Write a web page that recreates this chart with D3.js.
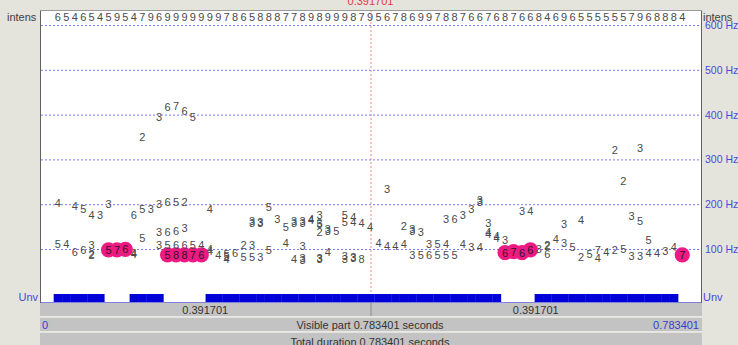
<!DOCTYPE html>
<html>
<head>
<meta charset="utf-8">
<script src="https://cdn.jsdelivr.net/npm/d3@7"></script>
<style>
  html, body { margin: 0; padding: 0; background: #e4e4dc; }
  svg { display: block; font-family: "Liberation Sans", Arial, sans-serif; }
</style>
</head>
<body>
<svg id="chart" width="738" height="345"></svg>
<script>
// Sound / pitch analysis settings
const duration = 0.783401;
const cursorTime = 0.391701;
const firstFrame = 0.0212;
const frameStep = 0.01;
const frameCount = 75;

// Lengths shown on the two halves of the time ruler (s)
const segmentLabels = ["0.391701", "0.391701"];

// Intensity digit per analysis frame (0..9)
const intensityDigits = ("6546545954796999999978658887789899987" +
                         "95678699788766768766846965555557968884").split("");

// Frequency axis ticks (Hz)
const hzTicks = [100, 200, 300, 400, 500, 600];

// Pitch candidates: [frame, frequency Hz, strength digit]
const candidates = [
  [0,202,4],[0,111,5],
  [1,111,4],
  [2,196,4],[2,94,6],
  [3,189,5],[3,98,6],
  [4,176,4],[4,109,3],[4,89,2],[4,86,2],
  [5,176,3],
  [6,200,3],
  [9,176,6],[9,91,4],[9,88,4],
  [10,349,2],[10,189,5],[10,124,5],
  [11,189,3],
  [12,395,3],[12,200,3],[12,139,3],[12,109,3],
  [13,418,6],[13,206,6],[13,139,6],[13,109,5],
  [14,419,7],[14,206,5],[14,141,6],[14,109,6],
  [15,409,6],[15,206,2],[15,146,3],[15,109,6],
  [16,394,5],[16,109,5],
  [17,109,4],
  [18,189,4],[18,99,4],[18,95,4],
  [19,87,4],
  [20,88,5],[20,85,5],[20,78,4],
  [21,92,6],
  [22,109,2],[22,83,5],
  [23,162,3],[23,159,3],[23,109,3],[23,83,5],
  [24,160,3],[24,157,3],[24,83,3],
  [25,194,5],[25,98,5],
  [26,166,3],
  [27,150,5],[27,114,4],
  [28,163,3],[28,159,3],[28,77,4],
  [29,163,3],[29,159,3],[29,107,3],[29,79,3],[29,75,3],
  [30,168,4],[30,164,4],
  [31,177,3],[31,159,3],[31,155,5],[31,137,2],[31,81,3],[31,77,3],
  [32,144,3],[32,140,3],[32,94,4],
  [33,140,5],
  [34,177,5],[34,161,5],[34,84,3],[34,77,3],
  [35,172,4],[35,161,4],[35,83,3],[35,79,3],
  [36,157,4],[36,78,8],
  [37,148,4],
  [38,114,4],
  [39,233,3],[39,107,4],
  [40,107,4],
  [41,152,2],[41,111,4],
  [42,144,3],[42,140,3],[42,87,3],
  [43,139,3],[43,87,5],
  [44,111,3],[44,87,6],
  [45,111,5],[45,87,5],
  [46,166,3],[46,111,4],[46,87,5],
  [47,166,6],[47,87,5],
  [48,176,3],[48,111,4],
  [49,189,3],[49,105,3],
  [50,210,3],[50,206,3],[50,105,4],
  [51,159,3],[51,137,4],[51,133,4],
  [52,128,4],[52,125,4],
  [53,120,3],
  [55,185,3],
  [56,185,4],
  [57,101,3],
  [58,110,2],[58,107,2],[58,89,6],
  [59,122,4],
  [60,155,3],[60,114,3],
  [61,105,5],
  [62,165,4],[62,83,2],
  [63,89,5],
  [64,98,7],[64,79,4],
  [65,94,4],
  [66,321,2],[66,98,2],
  [67,252,2],[67,101,5],
  [68,174,3],[68,84,3],
  [69,325,3],[69,163,5],[69,84,3],
  [70,120,5],[70,90,4],
  [71,92,4],
  [72,95,3],
  [73,105,4]
];

// Selected voiced path: [frame, frequency Hz, strength digit]
const voicedPath = [
  [6,98,5],[7,98,7],[8,99,6],
  [13,87,5],[14,87,8],[15,87,8],[16,87,7],[17,87,6],
  [53,92,6],[54,94,7],[55,92,6],[56,98,6],
  [74,87,7]
];

const svg = d3.select("#chart");
const areaLeft = 40, areaRight = 701, areaTop = 10, unvTop = 294, unvBottom = 302;

const x = d3.scaleLinear().domain([0, duration]).range([areaLeft, areaRight]);
const y = d3.scaleLinear().domain([0, 600]).range([293.8, 25]);
const frameTime = i => firstFrame + i * frameStep;

// white drawing area
svg.append("rect").attr("x", areaLeft).attr("y", areaTop)
  .attr("width", areaRight - areaLeft).attr("height", unvBottom - areaTop + 1)
  .attr("fill", "#ffffff");

// frequency grid lines
svg.append("g").selectAll("line").data(hzTicks).join("line")
  .attr("x1", areaLeft + 1).attr("x2", areaRight - 1)
  .attr("y1", d => y(d) + 0.5).attr("y2", d => y(d) + 0.5)
  .attr("stroke", "#7a7af0").attr("stroke-width", 1)
  .attr("stroke-dasharray", "2,2");

// frequency labels on the right
svg.append("g").selectAll("text").data(hzTicks).join("text")
  .attr("x", 705).attr("y", d => y(d) + 4)
  .attr("font-size", 10.5).attr("fill", "#4a4ad8")
  .text(d => d + " Hz");

// cursor line
svg.append("line")
  .attr("x1", x(cursorTime) + 0.5).attr("x2", x(cursorTime) + 0.5)
  .attr("y1", areaTop).attr("y2", unvTop)
  .attr("stroke", "#f08a8a").attr("stroke-dasharray", "2,2");

// cursor time above the area
svg.append("text").attr("x", x(cursorTime)).attr("y", 5)
  .attr("text-anchor", "middle").attr("font-size", 11).attr("fill", "#e04040")
  .text(cursorTime.toFixed(6));

// intensity digits
svg.append("g").selectAll("text").data(intensityDigits).join("text")
  .attr("x", (d, i) => x(frameTime(i)))
  .attr("y", 21)
  .attr("text-anchor", "middle").attr("font-size", 11).attr("fill", "#4a4a4a")
  .text(d => d);

svg.append("text").attr("x", 7).attr("y", 21).attr("font-size", 11)
  .attr("fill", "#404040").text("intens");
svg.append("text").attr("x", 703).attr("y", 21).attr("font-size", 11)
  .attr("fill", "#404040").text("intens");

// selected path circles
svg.append("g").selectAll("circle").data(voicedPath).join("circle")
  .attr("cx", d => x(frameTime(d[0])))
  .attr("cy", d => y(d[1]))
  .attr("r", 7.6)
  .attr("fill", "#ec1a82");

// candidate digits
svg.append("g").selectAll("text").data(candidates).join("text")
  .attr("x", d => x(frameTime(d[0])))
  .attr("y", d => y(d[1]) + 4)
  .attr("text-anchor", "middle").attr("font-size", 11).attr("fill", "#4a4a4a")
  .text(d => d[2]);

// digits of the selected path
svg.append("g").selectAll("text").data(voicedPath).join("text")
  .attr("x", d => x(frameTime(d[0])))
  .attr("y", d => y(d[1]) + 4)
  .attr("text-anchor", "middle").attr("font-size", 11).attr("fill", "#3a1028")
  .text(d => d[2]);

// unvoiced strip: blue where a frame is unvoiced
const voicedSet = new Set(voicedPath.map(d => d[0]));
const unvoiced = d3.range(frameCount).filter(i => !voicedSet.has(i));
svg.append("g").selectAll("rect").data(unvoiced).join("rect")
  .attr("x", i => x(frameTime(i) - frameStep / 2))
  .attr("width", i => x(frameTime(i) + frameStep / 2) - x(frameTime(i) - frameStep / 2) + 0.3)
  .attr("y", unvTop).attr("height", unvBottom - unvTop)
  .attr("fill", "#0000d8");
svg.append("line").attr("x1", areaLeft).attr("x2", areaRight)
  .attr("y1", unvBottom + 0.5).attr("y2", unvBottom + 0.5)
  .attr("stroke", "#8080e0");
svg.append("text").attr("x", 38).attr("y", 301).attr("text-anchor", "end")
  .attr("font-size", 11).attr("fill", "#4a4ad8").text("Unv");
svg.append("text").attr("x", 703).attr("y", 301)
  .attr("font-size", 11).attr("fill", "#4a4ad8").text("Unv");

// frame border
svg.append("line").attr("x1", areaLeft + 0.5).attr("x2", areaLeft + 0.5)
  .attr("y1", areaTop).attr("y2", unvBottom + 1).attr("stroke", "#606060");
svg.append("line").attr("x1", areaRight + 0.5).attr("x2", areaRight + 0.5)
  .attr("y1", areaTop).attr("y2", unvBottom + 1).attr("stroke", "#606060");
svg.append("line").attr("x1", areaLeft).attr("x2", areaRight + 1)
  .attr("y1", areaTop + 0.5).attr("y2", areaTop + 0.5).attr("stroke", "#9a9a9a");

// time rows below
const rows = [
  { y0: 303, y1: 316 },
  { y0: 318, y1: 331 },
  { y0: 333, y1: 346 }
];
svg.append("g").selectAll("rect").data(rows).join("rect")
  .attr("x", areaLeft).attr("y", d => d.y0)
  .attr("width", areaRight - areaLeft + 1).attr("height", d => d.y1 - d.y0)
  .attr("fill", "#c3c3c3");
svg.append("g").selectAll("line").data(rows).join("line")
  .attr("x1", areaLeft).attr("x2", areaRight + 1)
  .attr("y1", d => d.y1 + 0.5).attr("y2", d => d.y1 + 0.5)
  .attr("stroke", "#e8e8e8");
svg.append("line").attr("x1", x(cursorTime) + 0.5).attr("x2", x(cursorTime) + 0.5)
  .attr("y1", 303).attr("y2", 316).attr("stroke", "#8a8a8a");

svg.append("text").attr("x", (areaLeft + x(cursorTime)) / 2).attr("y", 314)
  .attr("text-anchor", "middle").attr("font-size", 11).attr("fill", "#333")
  .text(segmentLabels[0]);
svg.append("text").attr("x", (x(cursorTime) + areaRight) / 2).attr("y", 314)
  .attr("text-anchor", "middle").attr("font-size", 11).attr("fill", "#333")
  .text(segmentLabels[1]);

svg.append("text").attr("x", 42).attr("y", 329)
  .attr("font-size", 11).attr("fill", "#3a3ad0").text("0");
svg.append("text").attr("x", 370).attr("y", 329).attr("text-anchor", "middle")
  .attr("font-size", 11).attr("fill", "#333")
  .text("Visible part " + duration.toFixed(6) + " seconds");
svg.append("text").attr("x", 699).attr("y", 329).attr("text-anchor", "end")
  .attr("font-size", 11).attr("fill", "#3a3ad0").text(duration.toFixed(6));
svg.append("text").attr("x", 370).attr("y", 346).attr("text-anchor", "middle")
  .attr("font-size", 11).attr("fill", "#333")
  .text("Total duration " + duration.toFixed(6) + " seconds");
</script>
</body>
</html>
